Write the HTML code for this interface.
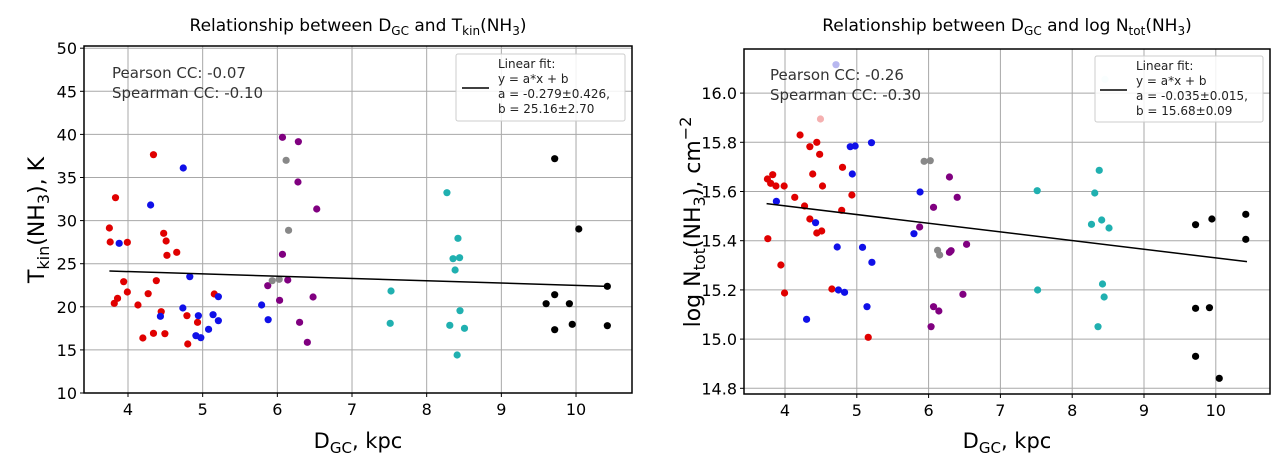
<!DOCTYPE html>
<html><head><meta charset="utf-8"><style>
body{margin:0;background:#fff;width:1287px;height:466px;overflow:hidden}
svg{font-family:"DejaVu Sans","Liberation Sans",sans-serif}
</style></head><body>
<svg id="s" width="1287" height="466" xmlns="http://www.w3.org/2000/svg">
<g id="g1"></g><g id="g2"></g>
<text x="358" y="31" font-size="17" text-anchor="middle">Relationship between D<tspan font-size="12" dy="4">GC</tspan><tspan dy="-4"> and T</tspan><tspan font-size="12" dy="4">kin</tspan><tspan dy="-4">(NH</tspan><tspan font-size="12" dy="4">3</tspan><tspan dy="-4">)</tspan></text>
<text x="112" y="78" font-size="15" fill="#333">Pearson CC: -0.07</text>
<text x="112" y="98" font-size="15" fill="#333">Spearman CC: -0.10</text>
<text x="358" y="448" font-size="21" text-anchor="middle">D<tspan font-size="15" dy="5">GC</tspan><tspan dy="-5">, kpc</tspan></text>
<text transform="translate(44,220) rotate(-90)" font-size="22" text-anchor="middle">T<tspan font-size="16" dy="5">kin</tspan><tspan dy="-5">(NH</tspan><tspan font-size="16" dy="5">3</tspan><tspan dy="-5">), K</tspan></text>
<rect x="456" y="54" width="169" height="67" fill="#fff" fill-opacity="0.85" stroke="#ccc" rx="2"/>
<line x1="462" y1="88" x2="489" y2="88" stroke="#000" stroke-width="1.5"/>
<text font-size="12" fill="#222"><tspan x="498" y="68">Linear fit:</tspan><tspan x="498" y="83">y = a*x + b</tspan><tspan x="498" y="98">a = -0.279±0.426,</tspan><tspan x="498" y="113">b = 25.16±2.70</tspan></text>
<text x="1007" y="31" font-size="17" text-anchor="middle">Relationship between D<tspan font-size="12" dy="4">GC</tspan><tspan dy="-4"> and log  N</tspan><tspan font-size="12" dy="4">tot</tspan><tspan dy="-4">(NH</tspan><tspan font-size="12" dy="4">3</tspan><tspan dy="-4">)</tspan></text>
<text x="770" y="80" font-size="15" fill="#333">Pearson CC: -0.26</text>
<text x="770" y="100" font-size="15" fill="#333">Spearman CC: -0.30</text>
<text x="1007" y="448" font-size="21" text-anchor="middle">D<tspan font-size="15" dy="5">GC</tspan><tspan dy="-5">, kpc</tspan></text>
<text transform="translate(700,222) rotate(-90)" font-size="22" text-anchor="middle">log  N<tspan font-size="16" dy="5">tot</tspan><tspan dy="-5">(NH</tspan><tspan font-size="16" dy="5">3</tspan><tspan dy="-5">), cm</tspan><tspan font-size="16" dy="-9">−2</tspan></text>
<rect x="1095" y="56" width="168" height="66" fill="#fff" fill-opacity="0.85" stroke="#ccc" rx="2"/>
<line x1="1100" y1="90" x2="1127" y2="90" stroke="#000" stroke-width="1.5"/>
<text font-size="12" fill="#222"><tspan x="1136" y="70">Linear fit:</tspan><tspan x="1136" y="85">y = a*x + b</tspan><tspan x="1136" y="100">a = -0.035±0.015,</tspan><tspan x="1136" y="115">b = 15.68±0.09</tspan></text>
</svg>
<script>
var NS="http://www.w3.org/2000/svg";
function el(g,t,a){var e=document.createElementNS(NS,t);for(var k in a)e.setAttribute(k,a[k]);g.appendChild(e);return e;}
function plot(gid,L,R,T,B,xt,xf,yt,yf,lab,off,sx,pts,line){
 var g=document.getElementById(gid);
 xt.forEach(function(v,i){var x=xf(v);el(g,"line",{x1:x,x2:x,y1:T,y2:B,stroke:"#a8a8a8","stroke-width":1});el(g,"line",{x1:x,x2:x,y1:B,y2:B+4,stroke:"#000"});var t=el(g,"text",{x:x,y:B+22,"font-size":16,"text-anchor":"middle"});t.textContent=v;});
 yt.forEach(function(v,i){var y=yf(v);el(g,"line",{x1:L,x2:R,y1:y,y2:y,stroke:"#a8a8a8","stroke-width":1});el(g,"line",{x1:L-4,x2:L,y1:y,y2:y,stroke:"#000"});var t=el(g,"text",{x:L-7,y:y+6,"font-size":16,"text-anchor":"end"});t.textContent=lab(v);});
 var cols={r:"#e00000",b:"#1010e8",p:"#800080",g:"#888888",c:"#20b0b0",k:"#000",lp:"#f5b0b0",lb:"#b8b8f0",lc:"#d8f4f4"};
 pts.forEach(function(p){el(g,"circle",{cx:off+p[0]/sx,cy:30+p[1]/3,r:3.6,fill:cols[p[2]]});});
 el(g,"line",{x1:off+line[0]/sx,y1:30+line[1]/3,x2:off+line[2]/sx,y2:30+line[3]/3,stroke:"#000","stroke-width":1.5});
 el(g,"rect",{x:L,y:T,width:R-L,height:B-T,fill:"none",stroke:"#000","stroke-width":1.5});
}
var P1=[];
function add(a,c,arr){a.forEach(function(p){arr.push([p[0],p[1],c]);});}
add([[268,594],[270,636],[283,503],[280,820],[288,805],[303,755],[312,637],[312,786],[338,825],[350,924],[363,791],[376,374],[376,910],[383,752],[395,845],[401,610],[404,911],[407,633],[409,676],[433,667],[458,857],[460,942],[484,877],[525,792]],"r",P1);
add([[292,640],[369,525],[393,859],[449,414],[448,834],[465,740],[486,857],[480,917],[492,923],[511,898],[522,854],[535,800],[535,872],[641,825],[657,869]],"b",P1);
add([[692,322],[731,335],[730,456],[776,537],[692,673],[656,767],[705,750],[685,811],[734,877],[767,801],[753,937]],"p",P1);
add([[701,391],[707,601],[667,752],[684,748]],"g",P1);
add([[1095,488],[1122,625],[1110,686],[1126,683],[1115,720],[958,783],[956,880],[1127,842],[1102,886],[1138,895],[1120,975]],"c",P1);
add([[1359,386],[1418,597],[1488,769],[1359,794],[1338,821],[1395,821],[1402,883],[1359,899],[1488,887]],"k",P1);
var P2=[];
add([[463,104]],"lb",P2);add([[425,267]],"lp",P2);add([[1122,148]],"lc",P2);
add([[295,447],[308,434],[303,460],[316,468],[336,468],[296,626],[328,705],[337,789],[362,502],[375,315],[386,528],[399,350],[406,432],[399,567],[416,337],[423,373],[416,609],[428,603],[430,468],[479,412],[477,541],[502,495],[453,777],[542,922]],"r",P2);
add([[317,514],[413,578],[391,868],[466,651],[469,780],[484,787],[498,350],[510,348],[503,432],[528,652],[550,338],[551,697],[539,830],[669,486],[654,611]],"b",P2);
add([[679,394],[694,392],[712,661],[717,675]],"g",P2);
add([[741,441],[760,502],[702,532],[668,591],[741,667],[745,662],[783,643],[774,793],[702,830],[715,843],[696,890]],"p",P2);
add([[956,482],[1108,421],[1097,489],[1089,583],[1114,570],[1132,594],[957,780],[1116,762],[1120,801],[1105,890]],"c",P2);
add([[1344,584],[1384,567],[1467,553],[1467,628],[1344,835],[1378,833],[1344,979],[1402,1045]],"k",P2);
plot("g1",84,632,46,393,[4,5,6,7,8,9,10],function(v){return 128+(v-4)*74.67;},[10,15,20,25,30,35,40,45,50],function(v){return 393-(v-10)*8.62;},function(v){return v;},0,2.45,P1,[268,723,1488,769]);
plot("g2",744,1270,49,394,[4,5,6,7,8,9,10],function(v){return 785+(v-4)*71.8;},[14.8,15.0,15.2,15.4,15.6,15.8,16.0],function(v){return 388.3-(v-14.8)*246;},function(v){return v.toFixed(1);},647,2.45,P2,[293,521,1470,695]);
</script>
</body></html>
